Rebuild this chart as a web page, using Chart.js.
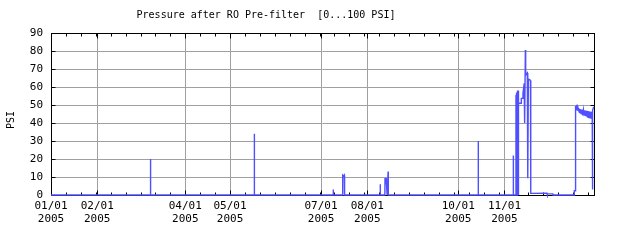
<!DOCTYPE html>
<html>
<head>
<meta charset="utf-8">
<script src="https://cdn.jsdelivr.net/npm/chart.js@4.4.0/dist/chart.umd.min.js"></script>
<style>
  html, body { margin: 0; padding: 0; background: #fff; }
  #chart { display: block; }
</style>
</head>
<body>
<canvas id="chart" width="640" height="240"></canvas>
<script>
const chartTitle = 'Pressure after RO Pre-filter  [0...100 PSI]';
const yTitle = 'PSI';

// day of year 2005 (0 = Jan 1) where a date label and grid line is shown
const labelDays = [0, 31, 90, 120, 181, 212, 273, 304];
const labelText = ['01/01', '02/01', '04/01', '05/01', '07/01', '08/01', '10/01', '11/01'];
const labelYear = '2005';
const yTicks = [0, 10, 20, 30, 40, 50, 60, 70, 80, 90];

// readings: day of year and pressure (PSI)
const days = [
    0,
    66.6, 66.7, 66.8,
    136.2, 136.3, 136.4,
    189.1, 189.2, 189.3,
    195.2, 195.3, 195.6, 195.7, 196.2, 196.6, 196.8,
    220.6, 220.7, 220.8,
    223.8, 223.9, 224.3, 224.5, 224.7, 225.2, 225.3, 225.9, 226.0, 226.1,
    286.3, 286.4, 286.5,
    309.8, 309.9, 310.0,
    311.6, 311.7, 311.8, 311.9, 312.0, 312.1, 312.2, 312.3, 312.4, 312.5, 312.6,
    312.7, 312.8, 312.9, 313.0, 313.1, 313.2, 313.4, 313.5,
    315.1, 315.3, 315.9, 316.4, 316.9, 317.2, 317.4, 317.6, 318.0, 318.2,
    319.3, 319.6, 320.0, 321.0, 321.4, 321.6,
    332.5, 332.6, 336.4, 336.5, 350.7, 350.8, 351.4,
    351.5, 351.8, 352.1, 352.4, 352.7, 353.0, 353.3, 353.6, 353.9, 354.2,
    354.5, 354.8, 355.1, 355.4, 355.7, 356.0, 356.3, 356.6, 356.9, 357.2,
    357.5, 357.8, 358.1, 358.4, 358.7, 359.0, 359.3, 359.6, 359.9, 360.2,
    360.5, 360.8, 361.1, 361.4, 361.7, 362.0, 362.3, 362.6, 362.8,
    362.9, 363.2, 363.6, 364
];
const psi = [
    0,
    0, 20, 0,
    0, 34, 0,
    0, 3, 0,
    0, 10, 0, 11, 10.5, 11, 0,
    0, 6, 0,
    0, 9.5, 9.5, 6, 9.5, 9.5, 0, 0, 13, 0,
    0, 30, 0,
    0, 22, 0,
    0, 55.5, 0, 56, 0, 56.5, 0, 57, 0, 57, 0,
    57.5, 0, 58, 0, 58, 0, 58, 51,
    51, 53.7, 53.7, 56.5, 60, 62, 58, 40, 80.5, 66.7,
    67.8, 9.3, 64.4, 64, 63.6, 0.9,
    1.0, 0.6, 0.6, 0, 0, 2.4, 2.4,
    49.5, 47.6, 48.8, 47.2, 48.5, 46.8, 48.3, 46.4, 48.0, 46.0,
    47.8, 45.6, 47.6, 45.2, 47.4, 45.0, 47.3, 44.6, 47.1, 44.3,
    47.0, 44.0, 46.9, 43.8, 46.8, 43.6, 46.7, 43.4, 46.6, 43.2,
    46.5, 43.0, 46.4, 42.9, 46.3, 42.8, 46.2, 42.8, 46.0,
    3, 47, 48.5, 49
];

const monoFont = 'DejaVu Sans Mono';

// frame, inward ticks and the text around the plot
const framePlugin = {
    id: 'frame',
    beforeDatasetsDraw(chart) {
        const ctx = chart.ctx;
        const a = chart.chartArea;
        const xs = chart.scales.x;
        const ys = chart.scales.y;
        const L = Math.round(a.left) + 0.5, R = Math.round(a.right) + 0.5;
        const T = Math.round(a.top) + 0.5, B = Math.round(a.bottom) + 0.5;
        ctx.save();
        ctx.strokeStyle = '#000';
        ctx.lineWidth = 1;
        ctx.beginPath();
        for (let d = 0; d <= 364; d += 10) {
            const px = Math.round(xs.getPixelForValue(d)) + 0.5;
            ctx.moveTo(px, B); ctx.lineTo(px, B - 3);
            ctx.moveTo(px, T); ctx.lineTo(px, T + 3);
        }
        labelDays.forEach(d => {
            const px = Math.round(xs.getPixelForValue(d)) + 0.5;
            ctx.moveTo(px, B); ctx.lineTo(px, B - 5);
            ctx.moveTo(px, T); ctx.lineTo(px, T + 5);
        });
        yTicks.forEach(v => {
            const py = Math.round(ys.getPixelForValue(v)) + 0.5;
            ctx.moveTo(L, py); ctx.lineTo(L + 4, py);
            ctx.moveTo(R, py); ctx.lineTo(R - 4, py);
        });
        ctx.stroke();
        ctx.strokeRect(L, T, R - L, B - T);
        ctx.restore();
    },
    afterDraw(chart) {
        const ctx = chart.ctx;
        ctx.save();
        ctx.fillStyle = '#000';
        ctx.font = '10px "' + monoFont + '"';
        ctx.textAlign = 'center';
        ctx.textBaseline = 'middle';
        ctx.fillText(chartTitle, 266, 15);
        ctx.translate(11, 120);
        ctx.rotate(-Math.PI / 2);
        ctx.fillText(yTitle, 0, 0);
        ctx.restore();
    }
};

new Chart(document.getElementById('chart'), {
    type: 'line',
    data: {
        datasets: [{
            data: days.map((d, i) => ({ x: d, y: psi[i] })),
            borderColor: '#4f4fff',
            borderWidth: 1.4,
            pointRadius: 0,
            tension: 0,
            clip: 3
        }]
    },
    options: {
        responsive: false,
        animation: false,
        devicePixelRatio: 1,
        layout: { padding: { top: 33, right: 46, left: 0, bottom: 0 } },
        plugins: {
            legend: { display: false },
            tooltip: { enabled: false },
            title: { display: false }
        },
        scales: {
            x: {
                type: 'linear',
                min: 0,
                max: 364,
                afterBuildTicks: s => { s.ticks = labelDays.map(v => ({ value: v })); },
                afterFit: s => { s.height = 45; },
                grid: { color: '#a0a0a0', drawTicks: false },
                border: { display: false },
                ticks: {
                    autoSkip: false,
                    maxRotation: 0,
                    padding: 5,
                    color: '#000',
                    font: { family: monoFont, size: 11, lineHeight: 1.15 },
                    callback: (v, i) => [labelText[i], labelYear]
                }
            },
            y: {
                min: 0,
                max: 90,
                afterBuildTicks: s => { s.ticks = yTicks.map(v => ({ value: v })); },
                afterFit: s => { s.width = 51; },
                grid: { color: '#a0a0a0', drawTicks: false },
                border: { display: false },
                ticks: {
                    padding: 8,
                    color: '#000',
                    font: { family: monoFont, size: 11 }
                }
            }
        }
    },
    plugins: [framePlugin]
});
</script>
</body>
</html>
